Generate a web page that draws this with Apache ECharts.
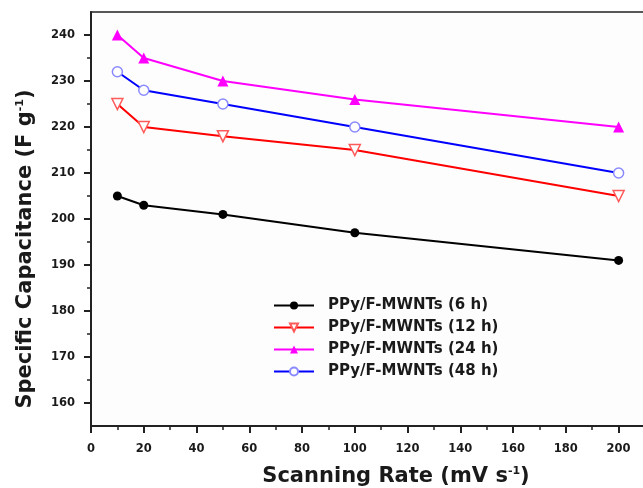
<!DOCTYPE html>
<html>
<head>
<meta charset="utf-8">
<script src="https://cdn.jsdelivr.net/npm/echarts@6/dist/echarts.min.js"></script>
<style>
  html, body { margin: 0; padding: 0; background: #fff; }
  #chart { width: 643px; height: 488px; }
</style>
</head>
<body>
<div id="chart"></div>
<script>
// Scan rates (mV/s) and specific capacitance (F/g) for each polymerisation time
const scanRates = [10, 20, 50, 100, 200];
const cap6h  = [205, 203, 201, 197, 191];
const cap12h = [225, 220, 218, 215, 205];
const cap24h = [240, 235, 230, 226, 220];
const cap48h = [232, 228, 225, 220, 210];

const seriesNames = [
  'PPy/F-MWNTs (6 h)',
  'PPy/F-MWNTs (12 h)',
  'PPy/F-MWNTs (24 h)',
  'PPy/F-MWNTs (48 h)'
];

const xMajorTicks = [0, 20, 40, 60, 80, 100, 120, 140, 160, 180, 200];
const xMinorTicks = [10, 30, 50, 70, 90, 110, 130, 150, 170, 190];
const yMajorTicks = [160, 170, 180, 190, 200, 210, 220, 230, 240];
const yMinorTicks = [165, 175, 185, 195, 205, 215, 225, 235];

const pairs = (ys) => scanRates.map((x, i) => [x, ys[i]]);

const axisColor = '#222';
const textColor = '#1a1a1a';
const fontFamily = '"DejaVu Sans", "Liberation Sans", sans-serif';

const chart = echarts.init(document.getElementById('chart'), null, { renderer: 'canvas' });

const baseX = {
  type: 'value', min: 0, max: 210, interval: 10,
  position: 'bottom',
  splitLine: { show: false }
};
const baseY = {
  type: 'value', min: 155, max: 245, interval: 5,
  position: 'left',
  splitLine: { show: false }
};

const supStyle = { fontFamily, fontWeight: 'bold', fontSize: 11, color: textColor, verticalAlign: 'top', padding: [0, 0, 10, 0] };

function line(name, data, color, symbol, size, filled, border) {
  return {
    name, type: 'line', data,
    xAxisIndex: 0, yAxisIndex: 0,
    symbol, symbolSize: size,
    lineStyle: { color, width: 2 },
    itemStyle: filled
      ? { color: color, borderColor: color, borderWidth: 0 }
      : { color: '#fff', borderColor: border, borderWidth: 1.5 },
    color,
    z: 3
  };
}

chart.setOption({
  animation: false,
  backgroundColor: '#fff',
  grid: {
    left: 91, top: 12, right: -2, bottom: 62,
    outerBoundsMode: 'none',
    show: true, borderColor: axisColor, borderWidth: 1.5,
    backgroundColor: '#fdfdfd'
  },
  legend: {
    left: 268, top: 293, orient: 'vertical', padding: 5,
    itemWidth: 40, itemHeight: 10, itemGap: 7,
    textStyle: { fontFamily, fontWeight: 'bold', fontSize: 15, color: textColor, padding: [0, 0, 0, 9] },
    data: seriesNames
  },
  xAxis: [
    Object.assign({}, baseX, {
      name: 'Scanning Rate (mV s{sup|-1})',
      nameLocation: 'middle', nameGap: 40,
      nameTextStyle: {
        fontFamily, fontWeight: 'bold', fontSize: 21, color: textColor,
        padding: [0, 0, 0, 56],
        rich: { sup: supStyle }
      },
      axisLine: { show: true, lineStyle: { color: axisColor, width: 2 } },
      axisTick: { show: true, length: 7, customValues: xMajorTicks, lineStyle: { color: axisColor, width: 2 } },
      axisLabel: {
        show: true, customValues: xMajorTicks, margin: 17,
        fontFamily, fontWeight: 'bold', fontSize: 11.5, color: textColor
      }
    }),
    Object.assign({}, baseX, {
      axisLine: { show: false },
      axisTick: { show: true, length: 4, customValues: xMinorTicks, lineStyle: { color: axisColor, width: 1.5 } },
      axisLabel: { show: false }
    })
  ],
  yAxis: [
    Object.assign({}, baseY, {
      name: 'Specific Capacitance (F g{sup|-1})',
      nameLocation: 'middle', nameGap: 55, nameRotate: 90,
      nameTextStyle: {
        fontFamily, fontWeight: 'bold', fontSize: 21, color: textColor,
        padding: [0, 60, 0, 0],
        rich: { sup: supStyle }
      },
      axisLine: { show: true, lineStyle: { color: axisColor, width: 2 } },
      axisTick: { show: true, length: 7, customValues: yMajorTicks, lineStyle: { color: axisColor, width: 2 } },
      axisLabel: {
        show: true, customValues: yMajorTicks, margin: 16,
        fontFamily, fontWeight: 'bold', fontSize: 11.5, color: textColor
      }
    }),
    Object.assign({}, baseY, {
      axisLine: { show: false },
      axisTick: { show: true, length: 4, customValues: yMinorTicks, lineStyle: { color: axisColor, width: 1.5 } },
      axisLabel: { show: false }
    })
  ],
  series: [
    line(seriesNames[0], pairs(cap6h), '#000000', 'circle', 9, true),
    line(seriesNames[1], pairs(cap12h), '#ff0000', 'path://M0,0 L10,0 L5,9 Z', 11, false, '#ff5a5a'),
    line(seriesNames[2], pairs(cap24h), '#ff00ff', 'triangle', 11, true),
    line(seriesNames[3], pairs(cap48h), '#0000ff', 'circle', 10, false, '#8a8aff')
  ]
});
</script>
</body>
</html>
